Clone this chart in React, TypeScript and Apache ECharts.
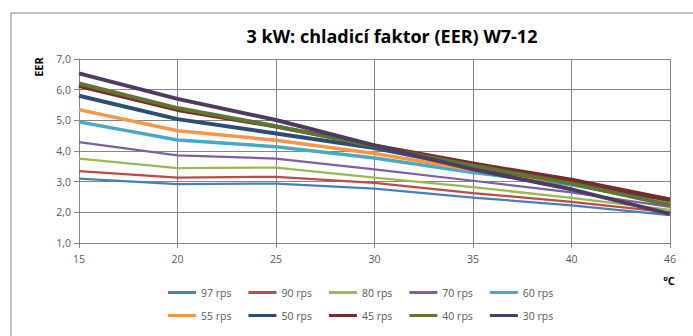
import React, { useEffect, useRef } from "react";
import * as echarts from "echarts";

const categories = ["15", "20", "25", "30", "35", "40", "46"];
const seriesNames = ["97 rps", "90 rps", "80 rps", "70 rps", "60 rps", "55 rps", "50 rps", "45 rps", "40 rps", "30 rps"];
const rps97 = [3.10, 2.92, 2.94, 2.77, 2.48, 2.23, 1.91];
const rps90 = [3.34, 3.13, 3.16, 2.96, 2.63, 2.34, 2.00];
const rps80 = [3.75, 3.44, 3.46, 3.13, 2.82, 2.47, 2.08];
const rps70 = [4.29, 3.86, 3.75, 3.40, 3.03, 2.65, 2.18];
const rps60 = [4.95, 4.36, 4.14, 3.77, 3.30, 2.90, 2.32];
const rps55 = [5.35, 4.66, 4.35, 3.92, 3.38, 2.96, 2.34];
const rps50 = [5.80, 5.04, 4.57, 4.10, 3.46, 2.98, 2.40];
const rps45 = [6.12, 5.34, 4.80, 4.18, 3.59, 3.06, 2.42];
const rps40 = [6.20, 5.40, 4.81, 4.15, 3.52, 2.94, 2.24];
const rps30 = [6.53, 5.70, 5.01, 4.18, 3.40, 2.75, 1.95];
const seriesValues = [rps97, rps90, rps80, rps70, rps60, rps55, rps50, rps45, rps40, rps30];

const colors = ["#4A7EBB", "#BE4B48", "#98B954", "#7D60A0", "#46AAC5", "#F79646", "#2C4D75", "#772C2A", "#5F7530", "#4D3B62"];
const widths = [2.25, 2.25, 2.25, 2.25, 3.5, 3.5, 4, 4, 4, 4];

const FONT = "'Open Sans', sans-serif";

export default function App() {
  const ref = useRef<HTMLDivElement>(null);
  useEffect(() => {
    if (!ref.current) return;
    const chart = echarts.init(ref.current, null, { renderer: "svg" });
    const legendBase = {
      orient: "horizontal",
      icon: "rect",
      itemWidth: 28,
      itemHeight: 3,
      itemGap: 17,
      textStyle: { color: "#595959", fontSize: 10.5, fontFamily: FONT },
    };
    chart.setOption({
      animation: false,
      backgroundColor: "#ffffff",
      color: colors,
      title: {
        text: "3 kW: chladicí faktor (EER) W7-12",
        left: 387,
        top: 22,
        textAlign: "center",
        textStyle: { fontSize: 18, fontWeight: "bold", color: "#000", fontFamily: FONT },
      },
      graphic: [
        {
          type: "rect",
          shape: { x: 11, y: 13, width: 720, height: 400 },
          style: { fill: "none", stroke: "#868686", lineWidth: 1 },
          silent: true,
        },
        {
          type: "text",
          x: 38,
          y: 67,
          rotation: Math.PI / 2,
          style: { text: "EER", fontSize: 11, fontWeight: "bold", fill: "#000", fontFamily: FONT, align: "center", verticalAlign: "middle" },
        },
        {
          type: "text",
          x: 669,
          y: 280,
          style: { text: "°C", fontSize: 11, fontWeight: "bold", fill: "#000", fontFamily: FONT, align: "center", verticalAlign: "middle" },
        },
      ],
      legend: [
        { ...legendBase, left: 163, top: 282, data: seriesNames.slice(0, 5) },
        { ...legendBase, left: 163, top: 305, data: seriesNames.slice(5, 10) },
      ],
      grid: { left: 79, right: 23, top: 59, bottom: 93, containLabel: false },
      xAxis: {
        type: "category",
        data: categories,
        boundaryGap: false,
        axisLine: { lineStyle: { color: "#868686", width: 1 } },
        axisTick: { show: true, length: 5, lineStyle: { color: "#868686" } },
        axisLabel: { color: "#595959", fontSize: 10.5, fontFamily: FONT, margin: 10 },
        splitLine: { show: true, lineStyle: { color: "#868686", width: 1 } },
      },
      yAxis: {
        type: "value",
        min: 1,
        max: 7,
        interval: 1,
        axisLine: { show: true, lineStyle: { color: "#868686", width: 1 } },
        axisTick: { show: true, length: 5, lineStyle: { color: "#868686" } },
        axisLabel: {
          color: "#595959",
          fontSize: 10.5,
          fontFamily: FONT,
          margin: 8,
          formatter: (v: number) => v.toFixed(1).replace(".", ","),
        },
        splitLine: { show: true, lineStyle: { color: "#868686", width: 1 } },
      },
      series: seriesNames.map((name, i) => ({
        name,
        type: "line",
        data: seriesValues[i],
        symbol: "none",
        showSymbol: false,
        lineStyle: { width: widths[i], color: colors[i] },
        itemStyle: { color: colors[i] },
        z: 2 + i,
      })),
    });
    return () => chart.dispose();
  }, []);
  return <div ref={ref} style={{ position: "fixed", left: 0, top: 0, width: 693, height: 336 }} />;
}
